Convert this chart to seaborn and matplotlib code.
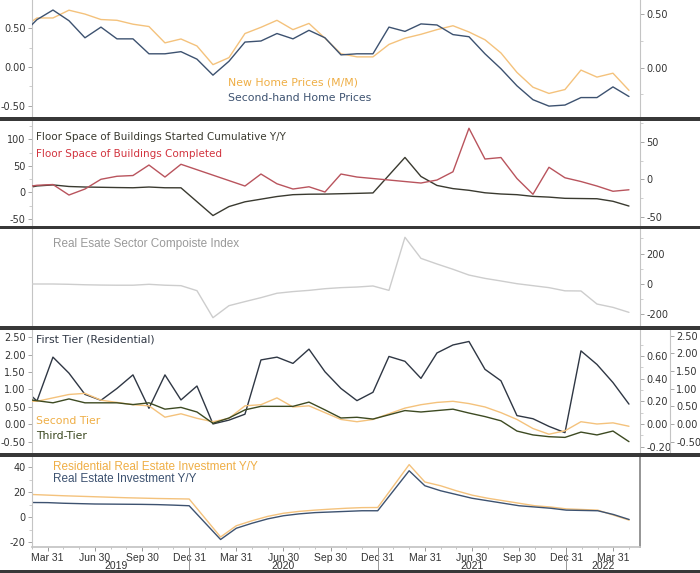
import numpy as np
import pandas as pd
import matplotlib
matplotlib.use('Agg')
import matplotlib.pyplot as plt
import matplotlib.transforms as mtransforms
from matplotlib.lines import Line2D
from matplotlib.patches import Rectangle
from matplotlib.ticker import FixedLocator, FormatStrFormatter
import seaborn as sns

# monthly data, Feb 2019 .. Apr 2022
months = pd.date_range('2019-02-01', periods=39, freq='MS') + pd.offsets.MonthEnd(0)
nan = np.nan

# panel 1: home prices M/M
new_home = [0.49, 0.63, 0.63, 0.73, 0.68, 0.61, 0.60, 0.55, 0.52, 0.31, 0.36, 0.27, 0.03,
            0.12, 0.43, 0.51, 0.60, 0.48, 0.56, 0.37, 0.17, 0.13, 0.13, 0.29, 0.37, 0.42,
            0.48, 0.53, 0.45, 0.35, 0.18, -0.07, -0.26, -0.34, -0.29, -0.04, -0.13, -0.08, -0.30]
second_hand = [0.30, 0.45, 0.54, 0.44, 0.28, 0.38, 0.27, 0.27, 0.13, 0.13, 0.15, 0.08, -0.07,
               0.06, 0.24, 0.25, 0.32, 0.27, 0.35, 0.28, 0.12, 0.13, 0.13, 0.38, 0.34, 0.41,
               0.40, 0.31, 0.29, 0.13, -0.01, -0.17, -0.30, -0.36, -0.35, -0.28, -0.28, -0.18, -0.27]

# panel 2: floor space
started = [6, 12, 14, 11, 10, 9.5, 9, 8.6, 10, 8.6, 8.5, nan, -44, -27, -18, -13, -8, -4.5,
           -3.6, -3.4, -2.7, -2, -1.2, nan, 66, 30, 13, 7, 3.8, -0.9, -3.2, -4.5, -7.7, -9.1,
           -11.4, nan, -12.2, -17, -26]
completed = [-11, -8, -7, -21, -13, 0, 4, 5, 19, 3, 20, nan, nan, nan, -9, 7, -6, -13, -10,
             -17, 7, 3, 1, nan, -3, -5, -1, 10, 68, 27, 29, 1, -20, 16, 2, -3, -9, -16, -14]

# panel 3: composite index
composite = [0, 0, 0, -2, -5, -7, -8, -8, -2, -8, -11, -44, -222, -143, -116, -90, -61, -50,
             -42, -31, -24, -20, -13, -42, 308, 169, 132, 97, 59, 37, 20, 2, -11, -24, -45,
             -46, -132, -154, -187]

# panel 4: tiers
first_tier = [1.09, 0.67, 1.93, 1.47, 0.86, 0.69, 1.03, 1.42, 0.46, 1.42, 0.70, 1.10, 0.01,
              0.12, 0.29, 1.85, 1.93, 1.75, 2.16, 1.51, 1.03, 0.68, 0.92, 1.95, 1.81, 1.32,
              2.05, 2.28, 2.38, 1.58, 1.25, 0.25, 0.16, -0.06, -0.24, 2.11, 1.72, 1.20, 0.58]
second_tier = [0.20, 0.20, 0.23, 0.26, 0.27, 0.21, 0.19, 0.17, 0.16, 0.06, 0.09, 0.05, 0.02,
               0.05, 0.16, 0.17, 0.23, 0.15, 0.16, 0.10, 0.04, 0.02, 0.04, 0.09, 0.14, 0.17,
               0.19, 0.20, 0.18, 0.15, 0.10, 0.04, -0.04, -0.09, -0.06, 0.02, 0.00, 0.01, -0.02]
third_tier = [0.72, 0.66, 0.60, 0.71, 0.60, 0.60, 0.60, 0.55, 0.60, 0.42, 0.47, 0.34, 0.02,
              0.17, 0.40, 0.50, 0.50, 0.50, 0.62, 0.40, 0.17, 0.19, 0.14, 0.26, 0.38, 0.34,
              0.38, 0.42, 0.31, 0.21, 0.09, -0.20, -0.31, -0.36, -0.38, -0.23, -0.31, -0.20, -0.50]

# panel 5: investment Y/Y
resi_invest = [18, 17.5, 17, 16.6, 16.2, 15.8, 15.4, 15.1, 14.8, 14.6, 14.4, nan, -16, -7, -3,
               0.5, 3, 4.5, 5.5, 6.3, 7, 7.5, 7.6, nan, 41.9, 28, 25, 21, 17.5, 15, 13, 11, 9,
               8, 6.5, nan, 5.5, 1.5, -2.5]
total_invest = [11.6, 11.5, 11.0, 10.7, 10.4, 10.3, 10.2, 10.1, 9.9, 9.5, 9.0, nan, -18, -9, -5,
                -1.5, 1, 2.5, 3.5, 4, 4.5, 5, 5, nan, 37, 25, 21, 18, 15, 13, 11, 9, 8, 7, 5.5,
                nan, 5, 2, -2]

ORANGE = '#f4c27c'
ORANGE_TXT = '#efae45'
BLUE = '#3d5270'
DARK = '#3a3a30'
RED = '#b9545d'
RED_TXT = '#d2343f'
GREY = '#cdcdcd'
GREY_TXT = '#999999'
FIRST = '#2f3744'
THIRD = '#3d4a22'
SPINE = '#c4c4c4'
TICKTXT = '#333333'
NARROW = ['Liberation Sans', 'DejaVu Sans']

sns.set_theme(style='white')
plt.rcParams['font.family'] = ['DejaVu Sans']

W, H = 700, 573
fig = plt.figure(figsize=(7, 5.73), dpi=100)
X0, X1 = 32, 640
x = np.arange(len(months))
XLIM = (0.69, 38.69)


def make_ax(top, bottom):
    return fig.add_axes([X0 / W, 1 - bottom / H, (X1 - X0) / W, (bottom - top) / H])


def style(ax, side, lim, major, minor, fmt, labels=True):
    ax.set_xlim(*XLIM)
    ax.set_ylim(*lim)
    ax.yaxis.set_major_locator(FixedLocator(major))
    ax.yaxis.set_minor_locator(FixedLocator(minor))
    ax.yaxis.set_major_formatter(FormatStrFormatter(fmt))
    if side == 'right':
        ax.yaxis.tick_right()
    for s in ax.spines.values():
        s.set_visible(False)
    ax.spines[side].set_visible(True)
    ax.spines[side].set_color(SPINE)
    ax.spines[side].set_linewidth(0.8)
    ax.tick_params(axis='y', which='major', length=3, width=0.6, color='#999999',
                   labelsize=7, labelcolor=TICKTXT, pad=1.5, direction='out',
                   left=(side == 'left'), right=(side == 'right'),
                   labelleft=(side == 'left' and labels), labelright=(side == 'right' and labels))
    ax.tick_params(axis='y', which='minor', length=2, width=0.5, color='#bbbbbb',
                   left=(side == 'left'), right=(side == 'right'))
    ax.tick_params(axis='x', bottom=False, labelbottom=False)
    ax.set_xlabel('')
    ax.set_ylabel('')
    ax.patch.set_alpha(0)


def draw(ax, values, color, lw=1.0):
    d = pd.DataFrame({'x': x, 'y': values}).dropna()
    sns.lineplot(data=d, x='x', y='y', ax=ax, color=color, linewidth=lw, estimator=None)


def label(px, py, s, color, size=7, family=None):
    fig.text(px / W, 1 - py / H, s, color=color, fontsize=size, va='center', ha='left',
             family=family if family else ['DejaVu Sans'])


# ---- panel 1
a1 = make_ax(0, 117)
b1 = a1.twinx()
draw(a1, new_home, ORANGE)
draw(b1, second_hand, BLUE)
style(a1, 'left', (-0.643, 0.861), [-0.5, 0, 0.5], [-0.25, 0.25], '%.2f')
style(b1, 'right', (-0.462, 0.634), [0, 0.5], [-0.25, 0.25], '%.2f')
label(228, 83, 'New Home Prices (M/M)', ORANGE_TXT, 7.8)
label(228, 98, 'Second-hand Home Prices', BLUE, 7.8)

# ---- panel 2
a2 = make_ax(121, 226)
b2 = a2.twinx()
draw(a2, started, DARK)
draw(b2, completed, RED)
style(a2, 'left', (-63.8, 135.0), [-50, 0, 50, 100], [-25, 25, 75, 125], '%d')
style(b2, 'right', (-62.3, 77.7), [-50, 0, 50], [-25, 25, 75], '%d')
label(36, 137, 'Floor Space of Buildings Started Cumulative Y/Y', DARK, 7.5)
label(36, 154, 'Floor Space of Buildings Completed', RED_TXT, 7.5)

# ---- panel 3
a3 = make_ax(229, 326)
b3 = a3.twinx()
draw(b3, composite, GREY)
style(a3, 'left', (-276.9, 362.6), [], [], '%d', labels=False)
style(b3, 'right', (-276.9, 362.6), [-200, 0, 200], [-100, 100, 300], '%d')
label(53, 244, 'Real Esate Sector Compoiste Index', GREY_TXT, 8.5, NARROW)

# ---- panel 4
a4 = make_ax(330, 453)
b4 = a4.twinx()
c4 = a4.twinx()
c4.spines['right'].set_position(('outward', 21.6))
draw(a4, first_tier, FIRST)
draw(b4, second_tier, ORANGE)
draw(c4, third_tier, THIRD)
style(a4, 'left', (-0.825, 2.71), [-0.5, 0, 0.5, 1, 1.5, 2, 2.5], [], '%.2f')
style(b4, 'right', (-0.2555, 0.828), [-0.2, 0, 0.2, 0.4, 0.6], [-0.1, 0.1, 0.3, 0.5, 0.7], '%.2f')
style(c4, 'right', (-0.822, 2.663), [-0.5, 0, 0.5, 1, 1.5, 2, 2.5], [], '%.2f')
label(36, 339, 'First Tier (Residential)', FIRST, 7.8)
label(36, 421, 'Second Tier', ORANGE_TXT, 7.8)
label(36, 436, 'Third-Tier', THIRD, 7.8)

# ---- panel 5
a5 = make_ax(457, 547)
draw(a5, resi_invest, ORANGE)
draw(a5, total_invest, BLUE)
style(a5, 'left', (-24, 48), [-20, 0, 20, 40], [-10, 10, 30], '%d')
a5.spines['right'].set_visible(True)
a5.spines['right'].set_color('#888888')
a5.spines['bottom'].set_visible(True)
a5.spines['bottom'].set_color(SPINE)
label(53, 467, 'Residential Real Estate Investment Y/Y', ORANGE_TXT, 8.5, NARROW)
label(53, 479, 'Real Estate Investment Y/Y', BLUE, 8.5, NARROW)

qpos = [k for k in x if months[k].month in (3, 6, 9, 12)]
a5.set_xticks(qpos)
a5.set_xticklabels([months[k].strftime('%b %d') for k in qpos], family=NARROW)
a5.set_xticks(x, minor=True)
a5.tick_params(axis='x', which='major', bottom=True, labelbottom=True, length=3, width=0.6,
               color='#888888', labelsize=7.5, labelcolor=TICKTXT, pad=1)
a5.tick_params(axis='x', which='minor', bottom=True, length=1.5, width=0.5, color='#aaaaaa')

blend = mtransforms.blended_transform_factory(a5.transData, a5.transAxes)
dec_pos = [k for k in x if months[k].month == 12]
edges = [XLIM[0]] + dec_pos + [XLIM[1]]
years = sorted(set(m.year for m in months))
for yr, lo, hi in zip(years, edges[:-1], edges[1:]):
    a5.text((lo + hi) / 2, -0.215, str(yr), transform=blend, ha='center', va='center',
            fontsize=7.5, color=TICKTXT, family=NARROW)
for k in dec_pos:
    a5.add_line(Line2D([k, k], [0, -0.29], transform=blend, color='#999999', lw=0.7,
                       clip_on=False))

# ---- dark separator bands
for y1, y2 in [(117, 121), (226, 229), (326, 330), (453, 457), (570, 573)]:
    fig.add_artist(Rectangle((0, 1 - y2 / H), 1, (y2 - y1) / H, transform=fig.transFigure,
                             color='#383838', lw=0))

fig.savefig('out.png', dpi=100, facecolor='white')
